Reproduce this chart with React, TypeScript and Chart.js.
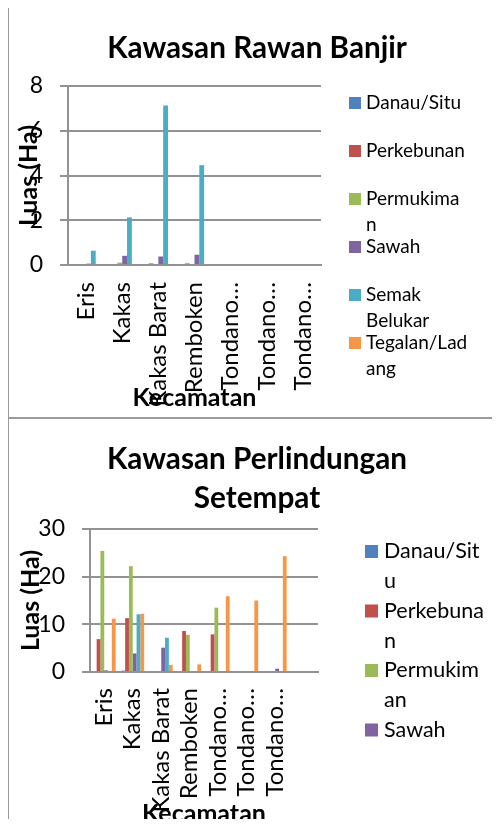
import React, { useEffect, useRef } from "react";
import { Chart, registerables } from "chart.js";

Chart.register(...registerables);

const FONT = "Lato, 'Open Sans', sans-serif";

// ---------- shared series ----------
const seriesNames = ["Danau/Situ", "Perkebunan", "Permukiman", "Sawah", "Semak Belukar", "Tegalan/Ladang"];
const seriesColors = ["#4F81BD", "#C0504D", "#9BBB59", "#8064A2", "#4BACC6", "#F79646"];

// ---------- Chart 1: Kawasan Rawan Banjir ----------
const banjirTitle = ["Kawasan Rawan Banjir"];
const banjirCategories = ["Eris", "Kakas", "Kakas Barat", "Remboken", "Tondano…", "Tondano…", "Tondano…"];
const banjirDanau = [0, 0, 0, 0, 0, 0, 0];
const banjirPerkebunan = [0, 0, 0.07, 0.07, 0, 0, 0];
const banjirPermukiman = [0, 0.11, 0, 0, 0, 0, 0];
const banjirSawah = [0.06, 0.41, 0.38, 0.46, 0, 0, 0];
const banjirSemak = [0.64, 2.13, 7.13, 4.46, 0, 0, 0];
const banjirTegalan = [0, 0, 0, 0.04, 0, 0, 0];
const banjirYMax = 8;
const banjirYStep = 2;
const banjirLegendLines = [["Danau/Situ"], ["Perkebunan"], ["Permukima", "n"], ["Sawah"], ["Semak", "Belukar"], ["Tegalan/Lad", "ang"]];

// ---------- Chart 2: Kawasan Perlindungan Setempat ----------
const lindungTitle = ["Kawasan Perlindungan", "Setempat"];
const lindungCategories = ["Eris", "Kakas", "Kakas Barat", "Remboken", "Tondano…", "Tondano…", "Tondano…", ""];
const lindungDanau = [0, 0.3, 0, 0, 0, 0.2, 0, null];
const lindungPerkebunan = [6.9, 11.3, 0, 8.6, 7.9, 0, 0, null];
const lindungPermukiman = [25.4, 22.2, 0, 7.8, 13.5, 0, 0, null];
const lindungSawah = [0.35, 3.9, 5.1, 0, 0, 0, 0.7, null];
const lindungSemak = [0, 12.1, 7.2, 0, 0, 0, 0, null];
const lindungTegalan = [11.2, 12.2, 1.5, 1.6, 15.9, 15.0, 24.3, null];
const lindungYMax = 30;
const lindungYStep = 10;
const lindungLegendLines = [["Danau/Sit", "u"], ["Perkebuna", "n"], ["Permukim", "an"], ["Sawah"]];

const xTitleText = "Kecamatan";
const yTitleText = "Luas (Ha)";

type Layout = {
  width: number;
  height: number;
  plotLeft: number;
  plotRight: number;
  plotTop: number;
  plotBottom: number;
  titleFont: number;
  titleY: number[];
  titleX: number;
  axisTitleFont: number;
  yTitleX: number;
  xTitleY: number;
  yTickFont: number;
  xTickFont: number;
  xTickPad: number;
  legendFont: number;
  legendBox: number;
  legendBoxX: number;
  legendTextX: number;
  legendY0: number;
  legendStep: number;
  legendLineH: number;
};

const GRID = "#929292";

function makeDecor(id: string, title: string[], legendLines: string[][], L: Layout) {
  return {
    id,
    afterDraw(chart: any) {
      const ctx = chart.ctx as CanvasRenderingContext2D;
      const ca = chart.chartArea;
      ctx.save();
      ctx.fillStyle = "#000";
      // chart title
      ctx.font = `bold ${L.titleFont}px ${FONT}`;
      ctx.textAlign = "center";
      ctx.textBaseline = "middle";
      title.forEach((t, i) => ctx.fillText(t, L.titleX, L.titleY[i]));
      // axis titles
      ctx.font = `bold ${L.axisTitleFont}px ${FONT}`;
      ctx.fillText(xTitleText, (ca.left + ca.right) / 2, L.xTitleY);
      ctx.save();
      ctx.translate(L.yTitleX, (ca.top + ca.bottom) / 2);
      ctx.rotate(-Math.PI / 2);
      ctx.fillText(yTitleText, 0, 0);
      ctx.restore();
      // legend
      ctx.font = `${L.legendFont}px ${FONT}`;
      ctx.textAlign = "left";
      legendLines.forEach((lines, i) => {
        const cy = L.legendY0 + i * L.legendStep;
        ctx.fillStyle = seriesColors[i];
        ctx.fillRect(L.legendBoxX, cy - L.legendBox / 2, L.legendBox, L.legendBox);
        ctx.fillStyle = "#000";
        lines.forEach((ln, k) => ctx.fillText(ln, L.legendTextX, cy + k * L.legendLineH));
      });
      ctx.restore();
    },
  };
}

function buildConfig(
  categories: string[],
  series: (number | null)[][],
  yMax: number,
  yStep: number,
  L: Layout,
  decor: any
): any {
  return {
    type: "bar",
    data: {
      labels: categories,
      datasets: series.map((d, i) => ({
        label: seriesNames[i],
        data: d,
        backgroundColor: seriesColors[i],
        borderWidth: 0,
        categoryPercentage: 0.8,
        barPercentage: 1,
      })),
    },
    options: {
      animation: false,
      responsive: false,
      events: [],
      layout: {
        padding: { top: L.plotTop, right: L.width - L.plotRight, left: 0, bottom: 0 },
      },
      plugins: {
        legend: { display: false },
        title: { display: false },
        tooltip: { enabled: false },
      },
      scales: {
        x: {
          grid: { display: false },
          border: { display: true, color: GRID, width: 2 },
          ticks: {
            minRotation: 90,
            maxRotation: 90,
            autoSkip: false,
            padding: L.xTickPad,
            color: "#000",
            font: { family: FONT, size: L.xTickFont },
          },
          afterFit: (s: any) => {
            s.height = L.height - L.plotBottom;
          },
        },
        y: {
          min: 0,
          max: yMax,
          ticks: {
            stepSize: yStep,
            padding: 17,
            color: "#000",
            font: { family: FONT, size: L.yTickFont },
          },
          grid: { color: GRID, lineWidth: 2, tickLength: 8, drawTicks: true },
          border: { color: GRID, width: 2 },
          afterFit: (s: any) => {
            s.width = L.plotLeft;
          },
        },
      },
    },
    plugins: [decor],
  };
}

const layout1: Layout = {
  width: 500,
  height: 418,
  plotLeft: 68,
  plotRight: 321,
  plotTop: 86,
  plotBottom: 265,
  titleFont: 29.7,
  titleY: [48],
  titleX: 257,
  axisTitleFont: 25,
  yTitleX: 29,
  xTitleY: 398,
  yTickFont: 23,
  xTickFont: 24,
  xTickPad: 9,
  legendFont: 19,
  legendBox: 12,
  legendBoxX: 349,
  legendTextX: 366,
  legendY0: 103,
  legendStep: 48,
  legendLineH: 26,
};

const layout2: Layout = {
  width: 500,
  height: 409,
  plotLeft: 90,
  plotRight: 318,
  plotTop: 111,
  plotBottom: 254,
  titleFont: 29.7,
  titleY: [41, 80],
  titleX: 257,
  axisTitleFont: 25,
  yTitleX: 31,
  xTitleY: 396,
  yTickFont: 23,
  xTickFont: 24,
  xTickPad: 8,
  legendFont: 21.5,
  legendBox: 13,
  legendBoxX: 365,
  legendTextX: 384,
  legendY0: 133.5,
  legendStep: 59.5,
  legendLineH: 30,
};

function BarChart(props: {
  categories: string[];
  series: (number | null)[][];
  yMax: number;
  yStep: number;
  layout: Layout;
  title: string[];
  legendLines: string[][];
  id: string;
}) {
  const ref = useRef<HTMLCanvasElement | null>(null);
  useEffect(() => {
    if (!ref.current) return;
    const decor = makeDecor(props.id, props.title, props.legendLines, props.layout);
    const chart = new Chart(
      ref.current,
      buildConfig(props.categories, props.series, props.yMax, props.yStep, props.layout, decor)
    );
    return () => chart.destroy();
  }, []);
  return (
    <canvas
      ref={ref}
      width={props.layout.width}
      height={props.layout.height}
      style={{ display: "block", width: props.layout.width, height: props.layout.height }}
    />
  );
}

export default function App() {
  const border = "#9a9a9a";
  return (
    <div
      style={{
        position: "relative",
        margin: "-8px",
        width: 500,
        height: 827,
        overflow: "hidden",
        background: "#fff",
        fontFamily: FONT,
      }}
    >
      <div style={{ position: "absolute", left: 7, top: 4, width: 2, height: 823, background: border }} />
      <div style={{ position: "absolute", left: 7, top: 4, width: 493, height: 2, background: border }} />
      <div style={{ position: "absolute", left: 7, top: 417, width: 493, height: 2, background: border }} />
      <div style={{ position: "absolute", left: 0, top: 0 }}>
        <BarChart
          id="decor1"
          categories={banjirCategories}
          series={[banjirDanau, banjirPerkebunan, banjirPermukiman, banjirSawah, banjirSemak, banjirTegalan]}
          yMax={banjirYMax}
          yStep={banjirYStep}
          layout={layout1}
          title={banjirTitle}
          legendLines={banjirLegendLines}
        />
      </div>
      <div style={{ position: "absolute", left: 0, top: 418 }}>
        <BarChart
          id="decor2"
          categories={lindungCategories}
          series={[lindungDanau, lindungPerkebunan, lindungPermukiman, lindungSawah, lindungSemak, lindungTegalan]}
          yMax={lindungYMax}
          yStep={lindungYStep}
          layout={layout2}
          title={lindungTitle}
          legendLines={lindungLegendLines}
        />
      </div>
    </div>
  );
}
